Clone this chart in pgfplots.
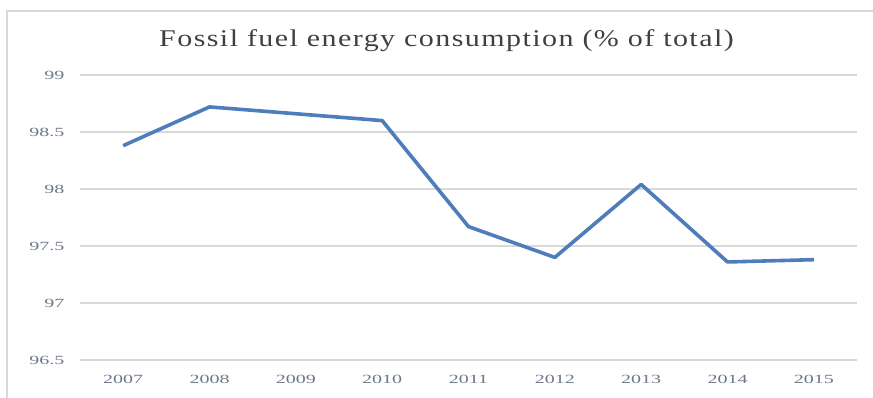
\documentclass[border=0pt]{standalone}
\usepackage{pgfplots}
\pgfplotsset{compat=1.18}
\usepackage{fontspec}
\setmainfont{Liberation Serif}
\newfontfamily\titlefont[FakeStretch=1.25,LetterSpace=6]{Liberation Serif}
\newfontfamily\tickfont[FakeStretch=1.6]{Liberation Serif}
\definecolor{lineblue}{RGB}{79,124,186}
\definecolor{gridgray}{RGB}{217,217,217}
\definecolor{ticktext}{RGB}{110,120,135}
\definecolor{titletext}{RGB}{64,64,64}
\begin{document}
\begin{tikzpicture}
\path[use as bounding box] (-80pt,-38pt) rectangle (793pt,360pt);
\draw[gridgray, line width=1.2pt] (-73pt,-38pt) -- (-73pt,349pt) -- (793pt,349pt);
\begin{axis}[
  at={(0pt,0pt)}, anchor=south west,
  scale only axis, width=777pt, height=285pt,
  xmin=2006.5, xmax=2015.5, ymin=96.5, ymax=99,
  xtick={2007,2008,2009,2010,2011,2012,2013,2014,2015},
  xticklabels={2007,2008,2009,2010,2011,2012,2013,2014,2015},
  ytick={96.5,97,97.5,98,98.5,99},
  yticklabels={96.5,97,97.5,98,98.5,99},
  axis line style={draw=none},
  major tick style={draw=none},
  ymajorgrids, grid style={gridgray, line width=1.2pt},
  yticklabel style={font=\tickfont\fontsize{12.5}{14}\selectfont, text=ticktext, xshift=-12pt},
  xticklabel style={font=\tickfont\fontsize{12.5}{14}\selectfont, text=ticktext, yshift=-12pt},
  title={Fossil fuel energy consumption (\% of total)},
  title style={at={(0.5,1)}, anchor=center, yshift=28pt, xshift=-22pt,
    font=\titlefont\fontsize{24}{28}\selectfont, text=titletext},
]
\addplot[lineblue, line width=3.6pt, line join=round] coordinates {
  (2007,98.38) (2008,98.72) (2009,98.66) (2010,98.60) (2011,97.67)
  (2012,97.40) (2013,98.04) (2014,97.36) (2015,97.38)
};
\end{axis}
\end{tikzpicture}
\end{document}
